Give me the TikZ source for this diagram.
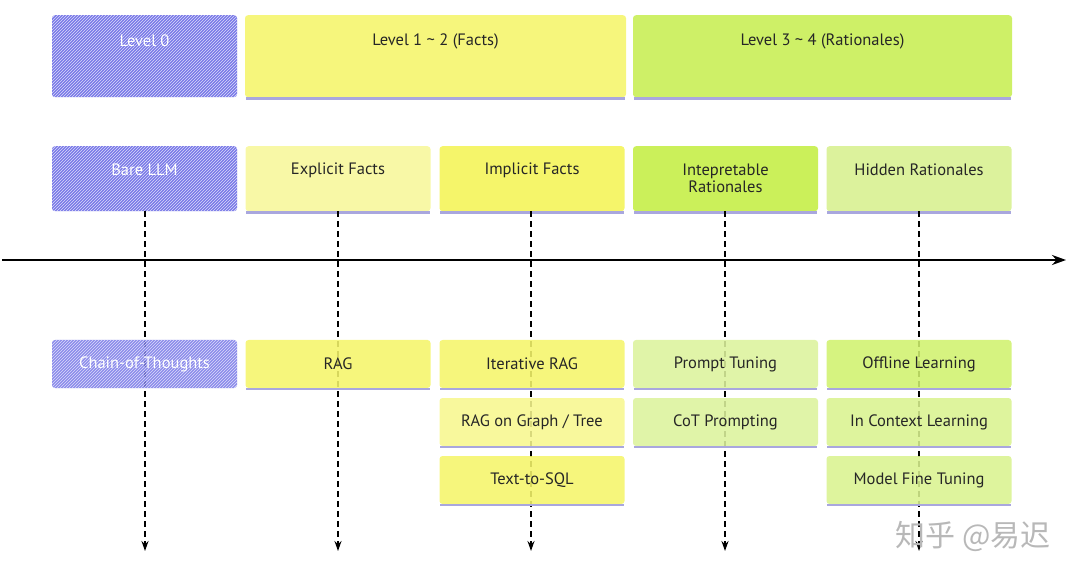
\documentclass[tikz,border=0pt]{standalone}
\usepackage{fontspec}
\setmainfont{PT Sans}
\newfontfamily\cjk{Noto Sans CJK SC}
\usetikzlibrary{patterns,arrows.meta}
\definecolor{cblue}{HTML}{7878E8}
\definecolor{cyel}{HTML}{F5F56A}
\definecolor{cyelL}{HTML}{F8F8A6}
\definecolor{cgrn}{HTML}{CBF05A}
\definecolor{cgrnL}{HTML}{DCF29C}
\definecolor{cshadow}{HTML}{A9A7DE}
\tikzset{
  box/.style={rectangle, rounded corners=3pt, minimum width=185pt, inner sep=2pt,
    align=center, font=\fontsize{16.5}{19}\selectfont, text=black!85},
  txt/.style={align=center, inner sep=1pt, font=\fontsize{16.5}{19}\selectfont, text=black!85},
  bluebox/.style={box, fill=cblue, postaction={pattern=north east lines, pattern color=white!75!cblue}, text=white},
  dline/.style={black, line width=1.8pt, dash pattern=on 6pt off 4pt, -{Stealth[length=10pt,width=7pt]}},
  axis/.style={black, line width=2.8pt, -{Stealth[length=14pt,width=10pt,open]}},
}
\newcommand{\shadowline}[1]{\draw[cshadow, line width=2.5pt] ([xshift=1pt,yshift=-1pt]#1.south west) -- ([xshift=-1pt,yshift=-1pt]#1.south east);}
\begin{document}
\begin{tikzpicture}[x=1pt,y=-1pt]
\useasboundingbox (0,0) rectangle (1080,580);
% top row
\node[bluebox, minimum height=82pt, anchor=north] (l0) at (144.5,15) {};
\node[txt, text=white] (l0t) at ([yshift=-26pt]l0.north) {Level 0};
\node[box, fill=cyel!70!cyelL, minimum width=381pt, minimum height=82pt, anchor=north] (l12) at (435.5,15) {};
\node[txt] (l12t) at ([yshift=-26pt]l12.north) {Level 1 \textasciitilde{} 2 (Facts)};
\node[box, fill=cgrn!80!cgrnL, minimum width=379pt, minimum height=82pt, anchor=north] (l34) at (822.5,15) {};
\node[txt] (l34t) at ([yshift=-26pt]l34.north) {Level 3 \textasciitilde{} 4 (Rationales)};
\shadowline{l12}\shadowline{l34}
% second row
\node[bluebox, minimum height=65pt, anchor=north] (bare) at (144.5,146) {};
\node[txt, text=white] (baret) at ([yshift=-24pt]bare.north) {Bare LLM};
\node[box, fill=cyelL, minimum height=65pt, anchor=north] (expl) at (338,146) {};
\node[txt] (explt) at ([yshift=-24pt]expl.north) {Explicit Facts};
\node[box, fill=cyel, minimum height=65pt, anchor=north] (impl) at (532,146) {};
\node[txt] (implt) at ([yshift=-24pt]impl.north) {Implicit Facts};
\node[box, fill=cgrn, minimum height=65pt, anchor=north] (interp) at (725.5,146) {};
\node[txt, font=\fontsize{16.5}{17}\selectfont] (interpt) at ([yshift=-32pt]interp.north) {Intepretable\\Rationales};
\node[box, fill=cgrnL, minimum height=65pt, anchor=north] (hidden) at (919,146) {};
\node[txt] (hiddent) at ([yshift=-24pt]hidden.north) {Hidden Rationales};
\shadowline{expl}\shadowline{impl}\shadowline{interp}\shadowline{hidden}
% axis
\coordinate (axs) at (2,260);
\coordinate (axe) at (1066,260);
\draw[axis] (axs) -- (axe);
% dashed end points
\coordinate (e1) at (145,551);
\coordinate (e2) at (338,551);
\coordinate (e3) at (531,551);
\coordinate (e4) at (725,551);
\coordinate (e5) at (919,551);
\draw[dline] (bare.south -| e1) -- (e1);
\draw[dline] (expl.south -| e2) -- (e2);
\draw[dline] (impl.south -| e3) -- (e3);
\draw[dline] (interp.south -| e4) -- (e4);
\draw[dline] (hidden.south -| e5) -- (e5);
% lower rows
\tikzset{low/.style={box, minimum height=48pt, fill opacity=0.88, text opacity=1}}
\node[bluebox, minimum height=48pt, fill opacity=0.85, text opacity=1] (cot) at (144.5,364) {Chain-of-Thoughts};
\node[low, fill=cyel] (rag) at (338,364) {RAG};
\node[low, fill=cyel] (irag) at (532,364) {Iterative RAG};
\node[low, fill=cgrnL] (pt) at (725.5,364) {Prompt Tuning};
\node[low, fill=cgrn!70!cgrnL] (off) at (919,364) {Offline Learning};
\node[low, fill=cyelL!60!cyel] (graph) at (532,422) {RAG on Graph / Tree};
\node[low, fill=cgrnL] (cotp) at (725.5,422) {CoT Prompting};
\node[low, fill=cgrnL!80!cgrn] (icl) at (919,422) {In Context Learning};
\node[low, fill=cyel] (sql) at (532,480) {Text-to-SQL};
\node[low, fill=cgrnL!80!cgrn] (mft) at (919,480) {Model Fine Tuning};
\foreach \n in {rag,irag,pt,off,graph,cotp,icl,sql,mft}{\shadowline{\n}}
% watermark
\node[text=black!28, font=\cjk\fontsize{30}{32}\selectfont, anchor=east] (wm) at (1054,536) {知乎 @易迟};
\end{tikzpicture}
\end{document}
